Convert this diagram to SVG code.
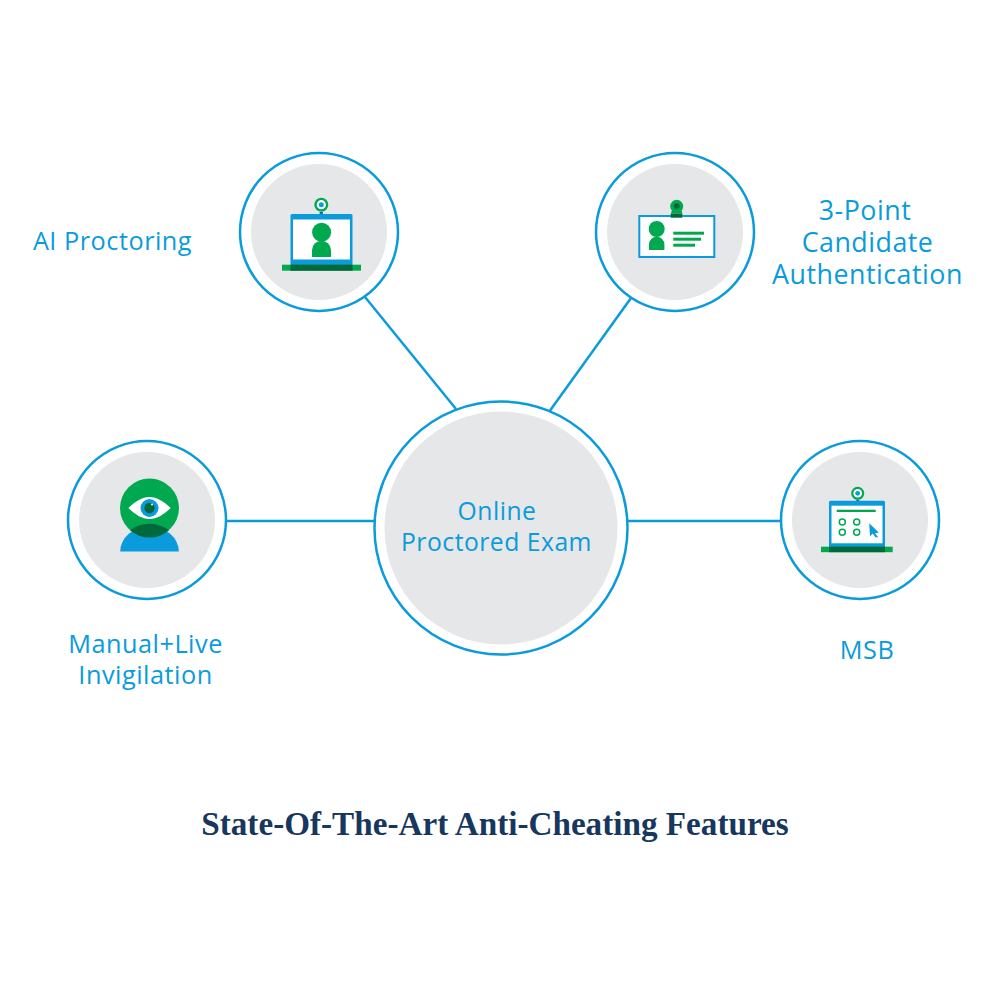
<svg xmlns="http://www.w3.org/2000/svg" width="1000" height="1000" viewBox="0 0 1000 1000">
<style>
.ring{fill:#fff;stroke:#0a9bdc;stroke-width:2.5}
.disc{fill:#e6e7e8}
.conn{stroke:#0a9bdc;stroke-width:2.5;fill:none}
.lbl{font-family:"Open Sans","Noto Sans",sans-serif;font-size:25.3px;fill:#0a9bdc;text-anchor:middle;letter-spacing:.5px}
.lg{font-size:26.8px}
.md{font-size:24.7px}
.title{font-family:"Liberation Serif","DejaVu Serif",serif;font-weight:700;font-size:33.2px;fill:#17375e;text-anchor:middle}
.g{fill:#00a94f}
.dg{fill:#00693c}
.b{fill:#0a9bdc}
.w{fill:#fff}
.sm{fill:none;stroke:#00a94f;stroke-width:1.5}
</style>
<rect width="1000" height="1000" fill="#fff"/>
<g id="connectors">
<line class="conn" x1="365" y1="297" x2="456" y2="409"/>
<line class="conn" x1="631" y1="298" x2="549" y2="412"/>
<line class="conn" x1="227" y1="521" x2="374" y2="521"/>
<line class="conn" x1="628" y1="521" x2="781" y2="521"/>
</g>
<g id="center">
<circle class="ring" cx="501" cy="528" r="126.5"/>
<circle class="disc" cx="501" cy="528" r="116.5"/>
<text class="lbl md" x="497" y="520">Online</text>
<text class="lbl md" x="496.5" y="551">Proctored Exam</text>
</g>
<g id="ai-proctoring">
<circle class="ring" cx="319" cy="232" r="79"/>
<circle class="disc" cx="319" cy="232" r="68"/>
<circle class="g" cx="321.3" cy="204.7" r="7"/>
<circle class="w" cx="321.3" cy="204.7" r="4.6"/>
<circle class="b" cx="321.3" cy="204.7" r="2.5"/>
<rect x="319.7" y="212" width="3.2" height="3" fill="#1a5fb4"/>
<rect class="b" x="290.5" y="214" width="62" height="51.5" rx="1.5"/>
<rect class="w" x="293" y="219.5" width="57" height="40"/>
<circle class="g" cx="321.6" cy="232.3" r="9.5"/>
<path class="g" d="M312 257v-7a9.5 9.2 0 0 1 19 0v7z"/>
<rect class="g" x="282" y="264.7" width="79" height="6"/>
<rect class="dg" x="290.5" y="264.7" width="62" height="6"/>
<text class="lbl" x="112.5" y="250">AI Proctoring</text>
</g>
<g id="candidate-authentication">
<circle class="ring" cx="675" cy="232" r="79"/>
<circle class="disc" cx="675" cy="232" r="68"/>
<rect class="w" x="639.3" y="216" width="75" height="41" stroke="#0a9bdc" stroke-width="2"/>
<circle class="g" cx="676.7" cy="206.3" r="6.5"/>
<circle class="dg" cx="676.7" cy="206.3" r="3"/>
<path class="g" d="M671 213.5a5.7 5 0 0 1 11.4 0z"/>
<rect class="dg" x="670.7" y="213.5" width="11.6" height="4.2"/>
<circle class="g" cx="656.7" cy="229" r="8"/>
<path class="g" d="M649 250v-5.5a7.7 7.8 0 0 1 15.4 0v5.5z"/>
<rect class="g" x="673.3" y="231.7" width="30.7" height="3"/>
<rect class="g" x="673.3" y="237.7" width="27.7" height="3"/>
<rect class="g" x="673.3" y="243.7" width="21.7" height="3"/>
<text class="lbl lg" x="865" y="220">3-Point</text>
<text class="lbl lg" x="867.5" y="252">Candidate</text>
<text class="lbl lg" x="867.5" y="284">Authentication</text>
</g>
<g id="manual-live-invigilation">
<circle class="ring" cx="147" cy="520" r="79"/>
<circle class="disc" cx="147" cy="520" r="68"/>
<circle class="g" cx="149.5" cy="508" r="29.5"/>
<path class="b" d="M120.2 551.5a29.3 25 0 0 1 58.6 0z"/>
<path class="dg" d="M130 530.2a29.3 25 0 0 1 39 0a29.5 29.5 0 0 1-39 0z"/>
<path class="w" d="M128.3 508C136 501 142 497 149.5 497C157 497 163 501 170.7 508C163 515 157 519 149.5 519C142 519 136 515 128.3 508z"/>
<circle class="b" cx="149.5" cy="508" r="9"/>
<circle class="dg" cx="149.5" cy="508" r="5.2"/>
<circle class="w" cx="152" cy="504.6" r="1"/>
<text class="lbl" x="145.5" y="653">Manual+Live</text>
<text class="lbl" x="145.5" y="684">Invigilation</text>
</g>
<g id="msb">
<circle class="ring" cx="860" cy="520" r="79"/>
<circle class="disc" cx="860" cy="520" r="68"/>
<circle class="g" cx="857.7" cy="493.3" r="6.5"/>
<circle class="w" cx="857.7" cy="493.3" r="4.3"/>
<circle class="b" cx="857.7" cy="493.3" r="2.4"/>
<rect x="856.2" y="499.8" width="3" height="2" fill="#1a5fb4"/>
<rect class="b" x="829" y="500.7" width="56" height="47" rx="1.5"/>
<rect class="w" x="831.5" y="505.7" width="51" height="37.6"/>
<rect class="g" x="836.7" y="509.7" width="39" height="2.3"/>
<circle class="sm" cx="842.3" cy="522" r="3"/>
<circle class="sm" cx="856.7" cy="522" r="3"/>
<circle class="sm" cx="842.3" cy="532.3" r="3"/>
<circle class="sm" cx="856.7" cy="532.3" r="3"/>
<path class="b" d="M869.2 523.3L878.8 532.4L875 533.2L878.3 537.2L875.6 537.2L872.6 533.4L870 536.5z"/>
<rect class="g" x="821" y="546.7" width="71.7" height="5.5"/>
<rect class="dg" x="829" y="546.7" width="56" height="5.5"/>
<text class="lbl" x="867" y="659">MSB</text>
</g>
<text class="title" x="495" y="835">State-Of-The-Art Anti-Cheating Features</text>
</svg>
